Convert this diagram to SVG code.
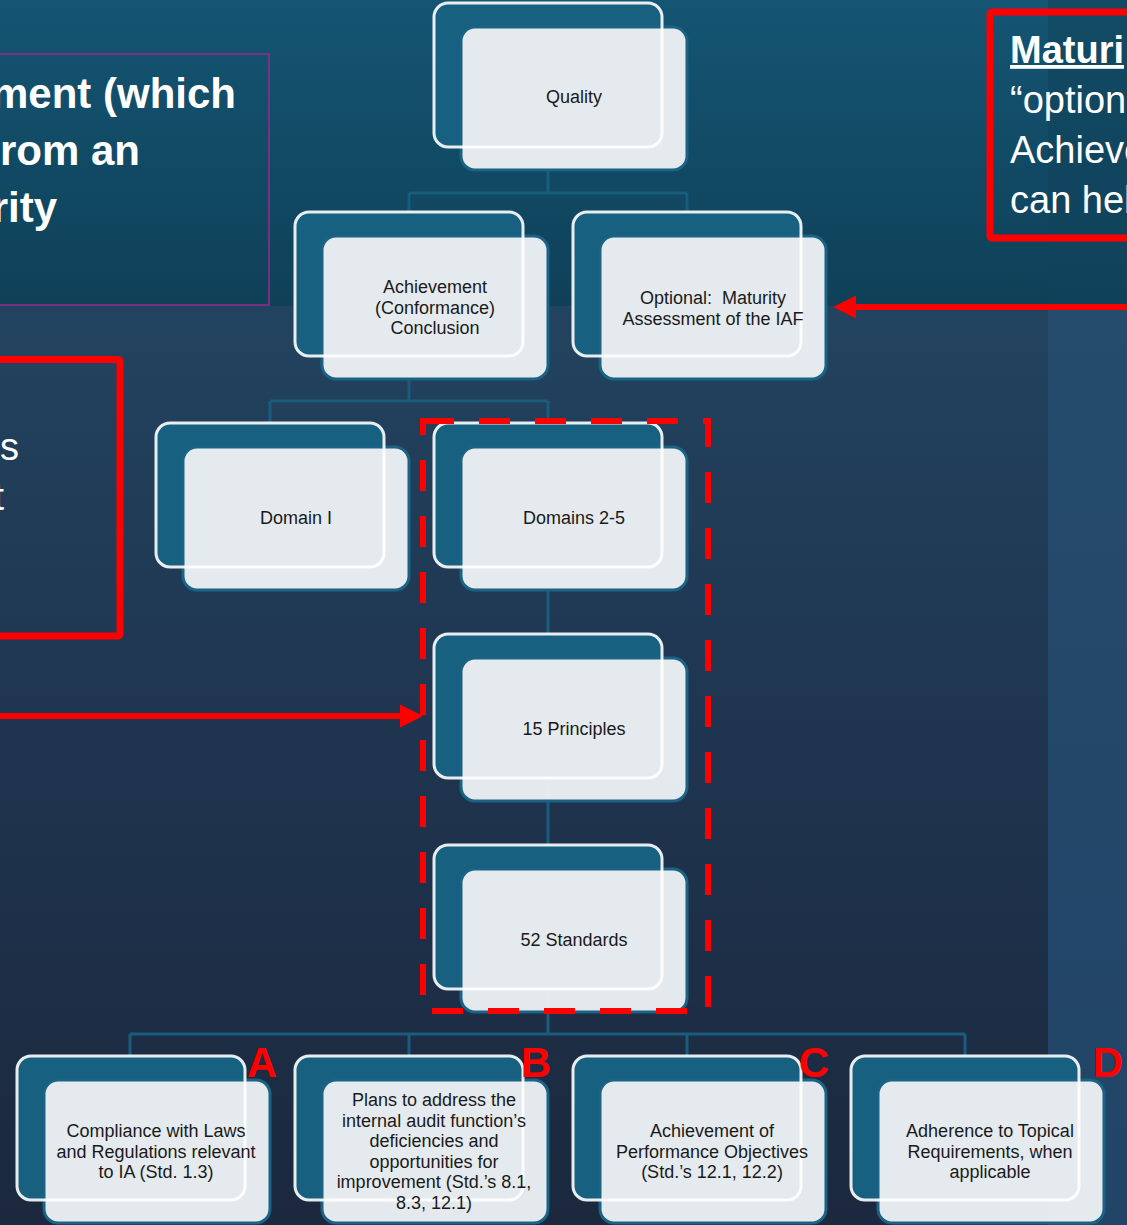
<svg xmlns="http://www.w3.org/2000/svg" width="1127" height="1225" viewBox="0 0 1127 1225">
<defs>
<linearGradient id="gTop" x1="0" y1="0" x2="0" y2="1">
<stop offset="0" stop-color="#145573"/>
<stop offset="1" stop-color="#0f4058"/>
</linearGradient>
<linearGradient id="gBot" x1="0" y1="0" x2="0" y2="1">
<stop offset="0" stop-color="#22435f"/>
<stop offset="0.5" stop-color="#1f344e"/>
<stop offset="1" stop-color="#1b283e"/>
</linearGradient>
<linearGradient id="gRTop" x1="0" y1="0" x2="0" y2="1">
<stop offset="0" stop-color="#124a64"/>
<stop offset="1" stop-color="#10415a"/>
</linearGradient>
<linearGradient id="gRBot" x1="0" y1="0" x2="0" y2="1">
<stop offset="0" stop-color="#254b6d"/>
<stop offset="1" stop-color="#214467"/>
</linearGradient>
<style>
.bk{fill:#17607f}
.bko{fill:none;stroke:#ffffff;stroke-width:3;opacity:.9}
.fr{fill:#e8edf0;fill-opacity:.985;stroke:#1a6384;stroke-width:3}
.t{font-family:"Liberation Sans",Arial,sans-serif;font-size:18px;fill:#1a1a1a;text-anchor:middle}
.cn{stroke:#195d7c;stroke-width:3;fill:none}
.red{stroke:#ff0000;fill:none}
.lbl{font-family:"Liberation Sans",Arial,sans-serif;font-weight:bold;font-size:42px;fill:#ff0000;text-anchor:middle}
.wb{font-family:"Liberation Sans",Arial,sans-serif;font-weight:bold;font-size:42px;fill:#ffffff;text-anchor:end}
.wr{font-family:"Liberation Sans",Arial,sans-serif;font-size:38px;fill:#ffffff}
</style>
</defs>

<g id="background">
<rect x="0" y="0" width="1127" height="306" fill="url(#gTop)"/>
<rect x="0" y="306" width="1127" height="919" fill="url(#gBot)"/>
<rect x="1048" y="0" width="79" height="306" fill="url(#gRTop)"/>
<rect x="1048" y="306" width="79" height="919" fill="url(#gRBot)"/>
</g>

<g id="side-notes">
<rect x="-10" y="54" width="279" height="251" fill="none" stroke="#9b2a8e" stroke-width="1.5"/>
<text class="wb" x="236" y="108">ment (which</text>
<text class="wb" x="140" y="165">rom an</text>
<text class="wb" x="57" y="222">rity</text>
<rect class="red" x="-10" y="359.5" width="130" height="276.5" stroke-width="7" rx="2"/>
<text class="wr" x="19" y="460" text-anchor="end">es</text>
<text class="wr" x="4" y="510" text-anchor="end">t</text>
<rect class="red" x="990" y="12" width="160" height="226" stroke-width="7" rx="2"/>
<text class="wr" x="1010" y="63" font-weight="bold" text-decoration="underline">Maturi</text>
<text class="wr" x="1010" y="113">“option</text>
<text class="wr" x="1010" y="163">Achieve</text>
<text class="wr" x="1010" y="213">can hel</text>
</g>

<g id="connectors">
<path class="cn" d="M548 147 V193 M409 193 H687 M409 193 V212 M687 193 V212"/>
<path class="cn" d="M409 356 V401 M270 401 H548 M270 401 V423 M548 401 V423"/>
<path class="cn" d="M548 567 V634 M548 778 V845"/>
<path class="cn" d="M548 989 V1034 M130 1034 H965 M130 1034 V1056 M409 1034 V1056 M687 1034 V1056 M965 1034 V1056"/>
</g>

<g id="node-quality">
<rect class="bk" x="434" y="3" width="228" height="144" rx="14"/>
<rect class="fr" x="461" y="27" width="226" height="143" rx="14"/>
<rect class="bko" x="434" y="3" width="228" height="144" rx="14"/>
<text class="t" x="574" y="103">Quality</text>
</g>

<g id="node-achievement">
<rect class="bk" x="295" y="212" width="228" height="144" rx="14"/>
<rect class="fr" x="322" y="236" width="226" height="143" rx="14"/>
<rect class="bko" x="295" y="212" width="228" height="144" rx="14"/>
<text class="t" x="435" y="293">Achievement</text>
<text class="t" x="435" y="313.5">(Conformance)</text>
<text class="t" x="435" y="334">Conclusion</text>
</g>

<g id="node-optional">
<rect class="bk" x="573" y="212" width="228" height="144" rx="14"/>
<rect class="fr" x="600" y="236" width="226" height="143" rx="14"/>
<rect class="bko" x="573" y="212" width="228" height="144" rx="14"/>
<text class="t" x="713" y="304" xml:space="preserve">Optional:  Maturity</text>
<text class="t" x="713" y="324.5">Assessment of the IAF</text>
</g>

<g id="node-domain1">
<rect class="bk" x="156" y="423" width="228" height="144" rx="14"/>
<rect class="fr" x="183" y="447" width="226" height="143" rx="14"/>
<rect class="bko" x="156" y="423" width="228" height="144" rx="14"/>
<text class="t" x="296" y="524">Domain I</text>
</g>

<g id="node-domains25">
<rect class="bk" x="434" y="423" width="228" height="144" rx="14"/>
<rect class="fr" x="461" y="447" width="226" height="143" rx="14"/>
<rect class="bko" x="434" y="423" width="228" height="144" rx="14"/>
<text class="t" x="574" y="524">Domains 2-5</text>
</g>

<g id="node-principles">
<rect class="bk" x="434" y="634" width="228" height="144" rx="14"/>
<rect class="fr" x="461" y="658" width="226" height="143" rx="14"/>
<rect class="bko" x="434" y="634" width="228" height="144" rx="14"/>
<text class="t" x="574" y="735">15 Principles</text>
</g>

<g id="node-standards">
<rect class="bk" x="434" y="845" width="228" height="144" rx="14"/>
<rect class="fr" x="461" y="869" width="226" height="143" rx="14"/>
<rect class="bko" x="434" y="845" width="228" height="144" rx="14"/>
<text class="t" x="574" y="946">52 Standards</text>
</g>

<g id="node-a">
<rect class="bk" x="17" y="1056" width="228" height="144" rx="14"/>
<rect class="fr" x="44" y="1080" width="226" height="143" rx="14"/>
<rect class="bko" x="17" y="1056" width="228" height="144" rx="14"/>
<text class="t" x="156" y="1137">Compliance with Laws</text>
<text class="t" x="156" y="1157.5">and Regulations relevant</text>
<text class="t" x="156" y="1178">to IA (Std. 1.3)</text>
</g>

<g id="node-b">
<rect class="bk" x="295" y="1056" width="228" height="144" rx="14"/>
<rect class="fr" x="322" y="1080" width="226" height="143" rx="14"/>
<rect class="bko" x="295" y="1056" width="228" height="144" rx="14"/>
<text class="t" x="434" y="1106">Plans to address the</text>
<text class="t" x="434" y="1126.5">internal audit function’s</text>
<text class="t" x="434" y="1147">deficiencies and</text>
<text class="t" x="434" y="1167.5">opportunities for</text>
<text class="t" x="434" y="1188">improvement (Std.’s 8.1,</text>
<text class="t" x="434" y="1208.5">8.3, 12.1)</text>
</g>

<g id="node-c">
<rect class="bk" x="573" y="1056" width="228" height="144" rx="14"/>
<rect class="fr" x="600" y="1080" width="226" height="143" rx="14"/>
<rect class="bko" x="573" y="1056" width="228" height="144" rx="14"/>
<text class="t" x="712" y="1137">Achievement of</text>
<text class="t" x="712" y="1157.5">Performance Objectives</text>
<text class="t" x="712" y="1178">(Std.’s 12.1, 12.2)</text>
</g>

<g id="node-d">
<rect class="bk" x="851" y="1056" width="228" height="144" rx="14"/>
<rect class="fr" x="878" y="1080" width="226" height="143" rx="14"/>
<rect class="bko" x="851" y="1056" width="228" height="144" rx="14"/>
<text class="t" x="990" y="1137">Adherence to Topical</text>
<text class="t" x="990" y="1157.5">Requirements, when</text>
<text class="t" x="990" y="1178">applicable</text>
</g>

<g id="annotations">
<rect class="red" x="423" y="421" width="285" height="590" stroke-width="6" stroke-dasharray="31 25"/>
<line class="red" x1="0" y1="716" x2="402" y2="716" stroke-width="6"/>
<polygon points="423,716 400,704.5 400,727.5" fill="#ff0000"/>
<line class="red" x1="1127" y1="307" x2="854" y2="307" stroke-width="6"/>
<polygon points="833,307 856,295.5 856,318.5" fill="#ff0000"/>
<text class="lbl" x="262" y="1077">A</text>
<text class="lbl" x="536" y="1077">B</text>
<text class="lbl" x="814" y="1077">C</text>
<text class="lbl" x="1108" y="1077">D</text>
</g>
</svg>
